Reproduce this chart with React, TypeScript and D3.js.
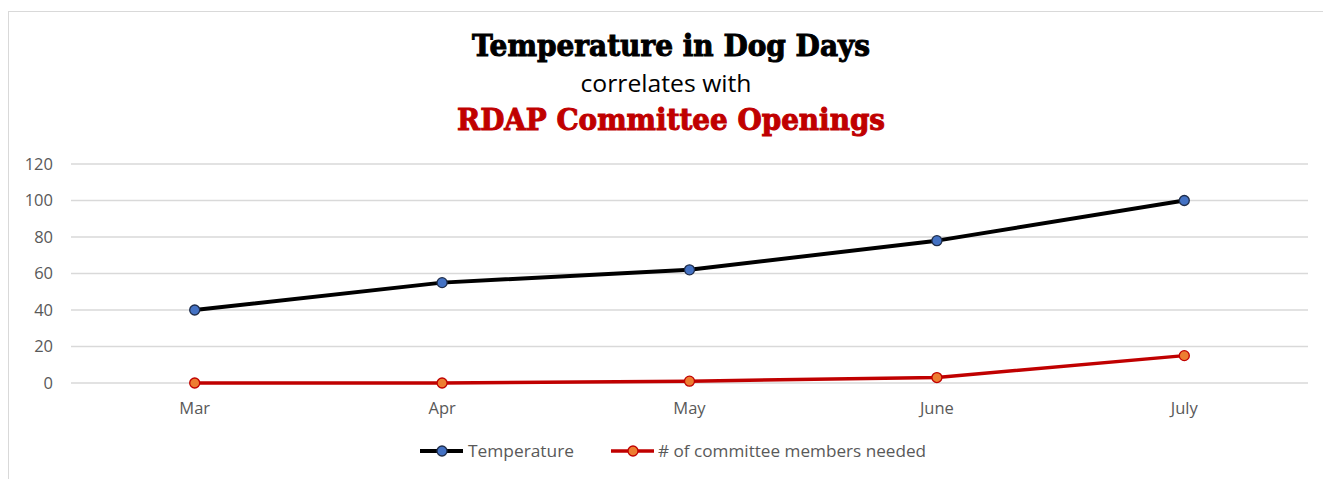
import React from 'react'
import * as d3 from 'd3'

const width = 1323
const height = 479

const months = ['Mar', 'Apr', 'May', 'June', 'July']
const temperature = [40, 55, 62, 78, 100]
const committee = [0, 0, 1, 3, 15]
const yTicks = [0, 20, 40, 60, 80, 100, 120]

const axisFont = '"Open Sans", "Liberation Sans", sans-serif'

export default function App() {
  const left = 71
  const right = 1308
  const top = 164
  const bottom = 383

  const x = d3.scalePoint().domain(months).range([left, right]).padding(0.5)
  const y = d3.scaleLinear().domain([0, 120]).range([bottom, top])

  const line = d3.line<number>()
    .x((_, i) => x(months[i]) as number)
    .y(d => y(d))

  const series = [
    { name: 'Temperature', values: temperature, stroke: '#000000', fill: '#4472C4', marker: '#1F2D4A', lw: 4 },
    { name: '# of committee members needed', values: committee, stroke: '#C00000', fill: '#ED7D31', marker: '#C00000', lw: 3.5 },
  ]

  const legend = [
    { lx: 420, tx: 468, w: 106 },
    { lx: 611, tx: 658, w: 268 },
  ]

  return (
    <svg width={width} height={height} style={{ position: 'absolute', left: 0, top: 0 }}>
      <rect x={0} y={0} width={width} height={height} fill="#fff" />
      <rect x={8.5} y={11.5} width={width} height={height} fill="none" stroke="#d9d9d9" />

      <text x={671} y={56} textAnchor="middle" fontFamily='"DejaVu Serif", serif' fontWeight={900}
        fontSize={29} textLength={398} lengthAdjust="spacingAndGlyphs" fill="#000"
        stroke="#000" strokeWidth={1}>Temperature in Dog Days</text>
      <text x={666} y={92} textAnchor="middle" fontFamily={axisFont} fontSize={23}
        textLength={171} lengthAdjust="spacingAndGlyphs" fill="#000">correlates with</text>
      <text x={671} y={130} textAnchor="middle" fontFamily='"DejaVu Serif", serif' fontWeight={900}
        fontSize={29} textLength={428} lengthAdjust="spacingAndGlyphs" fill="#C00000"
        stroke="#C00000" strokeWidth={1}>RDAP Committee Openings</text>

      {yTicks.map(t => (
        <g key={t}>
          <line x1={left} x2={right} y1={y(t)} y2={y(t)} stroke="#d9d9d9" strokeWidth={1.3} />
          <text x={53} y={y(t)} dy="0.35em" textAnchor="end" fontFamily={axisFont} fontSize={16.5} fill="#595959">{t}</text>
        </g>
      ))}

      {months.map(m => (
        <text key={m} x={x(m)} y={414} textAnchor="middle" fontFamily={axisFont} fontSize={16.5} fill="#595959">{m}</text>
      ))}

      {series.map(s => (
        <g key={s.name}>
          <path d={line(s.values) || ''} fill="none" stroke={s.stroke} strokeWidth={s.lw} strokeLinejoin="round" />
          {s.values.map((v, i) => (
            <circle key={i} cx={x(months[i])} cy={y(v)} r={5} fill={s.fill} stroke={s.marker} strokeWidth={1.3} />
          ))}
        </g>
      ))}

      {series.map((s, i) => (
        <g key={'lg' + s.name}>
          <line x1={legend[i].lx} x2={legend[i].lx + 43} y1={451} y2={451} stroke={s.stroke} strokeWidth={s.lw} />
          <circle cx={legend[i].lx + 22} cy={451} r={5} fill={s.fill} stroke={s.marker} strokeWidth={1.3} />
          <text x={legend[i].tx} y={451} dy="0.35em" fontFamily={axisFont} fontSize={16.5}
            textLength={legend[i].w} lengthAdjust="spacingAndGlyphs" fill="#595959">{s.name}</text>
        </g>
      ))}
    </svg>
  )
}
